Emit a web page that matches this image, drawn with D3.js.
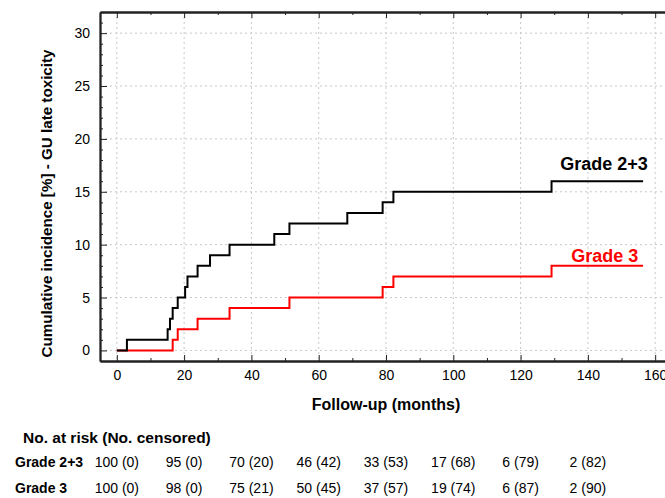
<!DOCTYPE html>
<html>
<head>
<meta charset="utf-8">
<script src="https://cdn.jsdelivr.net/npm/d3@7"></script>
<style>
  body { margin: 0; background: #fff; }
  svg { font-family: "Liberation Sans", Arial, sans-serif; }
  .grid line { stroke: #c8c8c8; stroke-dasharray: 2,3; }
  .axis path, .axis line { stroke: #222; }
  .axis path { stroke-width: 1.8; }
  .axis text { font-size: 14px; fill: #000; }
</style>
</head>
<body>
<div id="chart"></div>
<script>
// Step points of the cumulative incidence curves (months, %)
const monthsG23 = [0, 3, 15.1, 15.8, 16.6, 18.1, 20.3, 21.0, 24.0, 27.7, 33.5, 46.8, 51.3, 68.5, 79.0, 82.2, 129.2, 156.4];
const incG23    = [0, 1, 2, 3, 4, 5, 6, 7, 8, 9, 10, 11, 12, 13, 14, 15, 16, 16];
const monthsG3  = [0, 16.6, 18.1, 24.0, 33.5, 51.3, 79.0, 82.2, 129.2, 156.4];
const incG3     = [0, 1, 2, 3, 4, 5, 6, 7, 8, 8];

// Axis ticks
const xMajorTicks = [0, 20, 40, 60, 80, 100, 120, 140, 160];
const xMinorTicks = [10, 30, 50, 70, 90, 110, 130, 150];
const yMajorTicks = [0, 5, 10, 15, 20, 25, 30];
const yMinorTicks = d3.range(0, 32).filter(d => d % 5 !== 0);

// Risk table
const riskMonths = [0, 20, 40, 60, 80, 100, 120, 140];
const atRiskG23  = [100, 95, 70, 46, 33, 17, 6, 2];
const censG23    = [0, 0, 20, 42, 53, 68, 79, 82];
const atRiskG3   = [100, 98, 75, 50, 37, 19, 6, 2];
const censG3     = [0, 0, 21, 45, 57, 74, 87, 90];

class CumIncidencePlot {

  constructor(_config) {
    this.config = {
      parentElement: _config.parentElement,
      containerWidth: 665,
      containerHeight: 498,
      plotLeft: 100, plotRight: 672, plotTop: 12, plotBottom: 361
    };
    this.initVis();
  }

  initVis() {
    let vis = this;
    const c = vis.config;

    vis.svg = d3.select(c.parentElement).append('svg')
      .attr('width', c.containerWidth)
      .attr('height', c.containerHeight);

    vis.xScale = d3.scaleLinear().domain([-5, 165]).range([c.plotLeft, c.plotRight]);
    vis.yScale = d3.scaleLinear().domain([-1, 32]).range([c.plotBottom, c.plotTop]);

    vis.renderVis();
  }

  renderVis() {
    let vis = this;
    const c = vis.config;
    const x = vis.xScale, y = vis.yScale;

    // dashed grid
    const grid = vis.svg.append('g').attr('class', 'grid');
    grid.selectAll('.vgrid').data(xMajorTicks).join('line')
      .attr('class', 'vgrid')
      .attr('x1', d => x(d)).attr('x2', d => x(d))
      .attr('y1', c.plotTop).attr('y2', c.plotBottom);
    grid.selectAll('.hgrid').data(yMajorTicks).join('line')
      .attr('class', 'hgrid')
      .attr('x1', c.plotLeft).attr('x2', c.plotRight)
      .attr('y1', d => y(d)).attr('y2', d => y(d));

    // axes: ticks point inward
    vis.svg.append('g').attr('class', 'axis')
      .attr('transform', `translate(0,${c.plotBottom})`)
      .call(d3.axisBottom(x).tickValues(xMinorTicks).tickSize(-3).tickSizeOuter(0).tickFormat(''));
    vis.svg.append('g').attr('class', 'axis')
      .attr('transform', `translate(0,${c.plotBottom})`)
      .call(d3.axisBottom(x).tickValues(xMajorTicks).tickSize(-6).tickSizeOuter(0).tickPadding(9));

    vis.svg.append('g').attr('class', 'axis')
      .attr('transform', `translate(0,${c.plotTop})`)
      .call(d3.axisTop(x).tickValues(xMinorTicks).tickSize(-3).tickSizeOuter(0).tickFormat(''));
    vis.svg.append('g').attr('class', 'axis')
      .attr('transform', `translate(0,${c.plotTop})`)
      .call(d3.axisTop(x).tickValues(xMajorTicks).tickSize(-6).tickSizeOuter(0).tickFormat(''));

    vis.svg.append('g').attr('class', 'axis')
      .attr('transform', `translate(${c.plotLeft},0)`)
      .call(d3.axisLeft(y).tickValues(yMinorTicks).tickSize(-3).tickSizeOuter(0).tickFormat(''));
    vis.svg.append('g').attr('class', 'axis')
      .attr('transform', `translate(${c.plotLeft},0)`)
      .call(d3.axisLeft(y).tickValues(yMajorTicks).tickSize(-7).tickSizeOuter(0).tickPadding(10));

    // step curves
    const line = d3.line()
      .x(d => x(d[0]))
      .y(d => y(d[1]))
      .curve(d3.curveStepAfter);

    const series = [
      {name: 'Grade 3', color: '#ff0000', pts: d3.zip(monthsG3, incG3)},
      {name: 'Grade 2+3', color: '#000000', pts: d3.zip(monthsG23, incG23)}
    ];

    vis.svg.selectAll('.curve').data(series).join('path')
      .attr('class', 'curve')
      .attr('fill', 'none')
      .attr('stroke', d => d.color)
      .attr('stroke-width', 2)
      .attr('d', d => line(d.pts));

    // curve labels
    vis.svg.append('text')
      .attr('x', x(157.8)).attr('y', y(16) - 11)
      .attr('text-anchor', 'end')
      .attr('font-size', 18).attr('font-weight', 'bold')
      .attr('fill', '#000')
      .text('Grade 2+3');
    vis.svg.append('text')
      .attr('x', x(155)).attr('y', y(8) - 4)
      .attr('text-anchor', 'end')
      .attr('font-size', 18).attr('font-weight', 'bold')
      .attr('fill', '#ff0000')
      .text('Grade 3');

    // axis titles
    vis.svg.append('text')
      .attr('x', x(80)).attr('y', 410)
      .attr('text-anchor', 'middle')
      .attr('font-size', 16).attr('font-weight', 'bold')
      .text('Follow-up (months)');
    vis.svg.append('text')
      .attr('transform', `translate(52,${(c.plotTop + c.plotBottom) / 2 + 17}) rotate(-90)`)
      .attr('text-anchor', 'middle')
      .attr('font-size', 15.2).attr('font-weight', 'bold')
      .text('Cumulative incidence [%] - GU late toxicity');

    // number at risk table
    vis.svg.append('text')
      .attr('x', 23).attr('y', 443)
      .attr('font-size', 15.5).attr('font-weight', 'bold')
      .text('No. at risk (No. censored)');

    const rows = [
      {label: 'Grade 2+3', risk: atRiskG23, cens: censG23, yPos: 467},
      {label: 'Grade 3', risk: atRiskG3, cens: censG3, yPos: 493}
    ];

    rows.forEach(r => {
      vis.svg.append('text')
        .attr('x', 15).attr('y', r.yPos)
        .attr('font-size', 14).attr('font-weight', 'bold')
        .text(r.label);
      vis.svg.selectAll(null).data(riskMonths).join('text')
        .attr('x', d => x(d)).attr('y', r.yPos)
        .attr('text-anchor', 'middle')
        .attr('font-size', 14)
        .text((d, i) => `${r.risk[i]} (${r.cens[i]})`);
    });
  }
}

new CumIncidencePlot({parentElement: '#chart'});
</script>
</body>
</html>
